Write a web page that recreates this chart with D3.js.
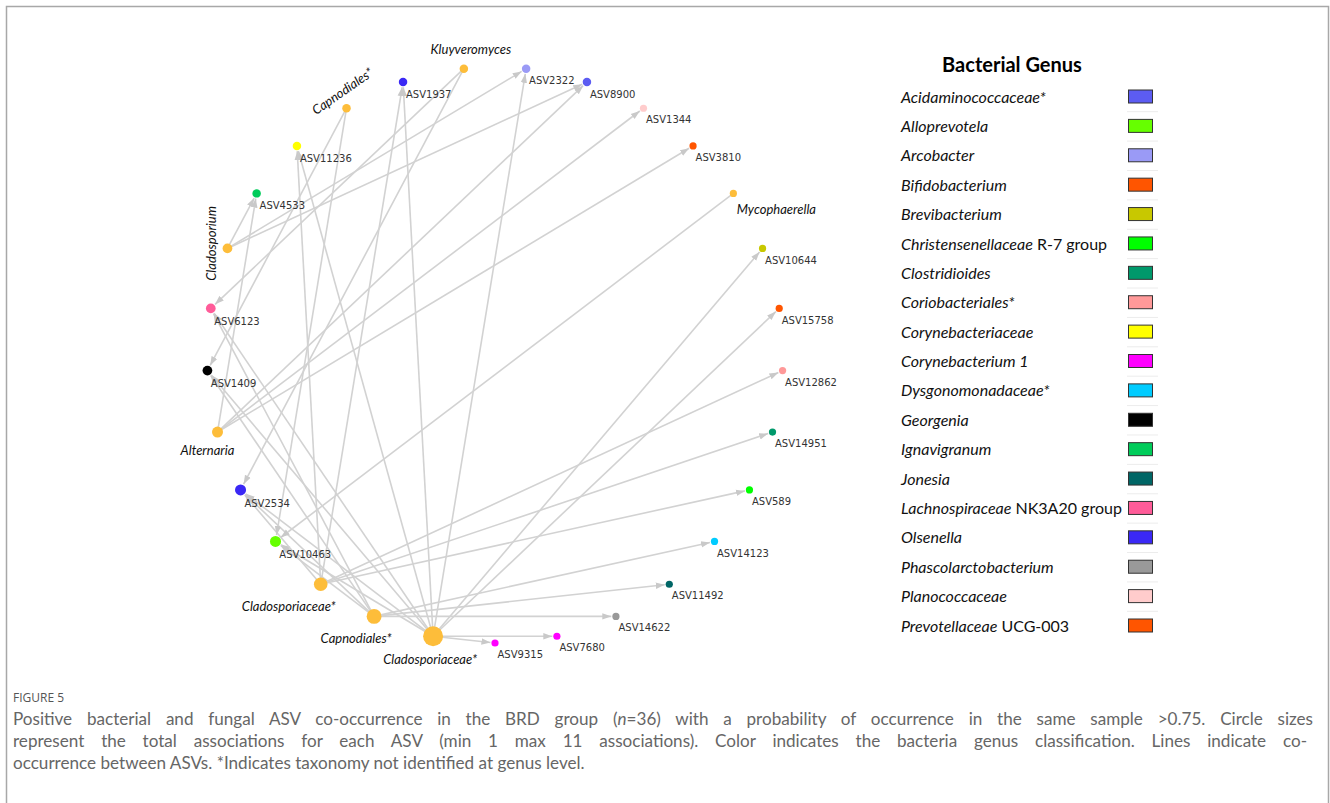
<!DOCTYPE html>
<html>
<head>
<meta charset="utf-8">
<script src="https://cdn.jsdelivr.net/npm/d3@7"></script>
<style>
  html, body { margin: 0; padding: 0; background: #fff; }
  svg { display: block; }
</style>
</head>
<body>
<svg id="fig" width="1330" height="803"></svg>
<script>
// ---- Nodes, in circular-layout order (clockwise from the top) ----
const ringOrder = [
  "ASV2322", "ASV8900", "ASV1344", "ASV3810", "Mycophaerella", "ASV10644",
  "ASV15758", "ASV12862", "ASV14951", "ASV589", "ASV14123", "ASV11492",
  "ASV14622", "ASV7680", "ASV9315", "Cladosporiaceae* (b)", "Capnodiales* (b)",
  "Cladosporiaceae* (a)", "ASV10463", "ASV2534", "Alternaria", "ASV1409",
  "ASV6123", "Cladosporium", "ASV4533", "ASV11236", "Capnodiales* (a)",
  "ASV1937", "Kluyveromyces"
];

// Fungal ASVs (labelled by taxonomy)
const fungalTaxa = [
  "Kluyveromyces", "Capnodiales* (a)", "Cladosporium", "Alternaria",
  "Cladosporiaceae* (a)", "Capnodiales* (b)", "Cladosporiaceae* (b)", "Mycophaerella"
];

// Bacterial ASVs and their genus
const bacterialASVs = [
  "ASV2322", "ASV8900", "ASV1344", "ASV3810", "ASV10644", "ASV15758", "ASV12862",
  "ASV14951", "ASV589", "ASV14123", "ASV11492", "ASV14622", "ASV7680", "ASV9315",
  "ASV10463", "ASV2534", "ASV1409", "ASV6123", "ASV4533", "ASV11236", "ASV1937"
];
const bacterialGenus = [
  "Arcobacter", "Acidaminococcaceae*", "Planococcaceae", "Prevotellaceae",
  "Brevibacterium", "Bifidobacterium", "Coriobacteriales*", "Clostridioides",
  "Christensenellaceae", "Dysgonomonadaceae*", "Jonesia", "Phascolarctobacterium",
  "Corynebacterium 1", "Corynebacterium 1", "Alloprevotela", "Olsenella",
  "Georgenia", "Lachnospiraceae", "Ignavigranum", "Corynebacteriaceae", "Olsenella"
];

// Legend: genus (italic part), plain suffix, colour
const genusNames = [
  "Acidaminococcaceae*", "Alloprevotela", "Arcobacter", "Bifidobacterium",
  "Brevibacterium", "Christensenellaceae", "Clostridioides", "Coriobacteriales*",
  "Corynebacteriaceae", "Corynebacterium 1", "Dysgonomonadaceae*", "Georgenia",
  "Ignavigranum", "Jonesia", "Lachnospiraceae", "Olsenella",
  "Phascolarctobacterium", "Planococcaceae", "Prevotellaceae"
];
const genusSuffix = [
  "", "", "", "", "", " R-7 group", "", "", "", "", "", "", "", "",
  " NK3A20 group", "", "", "", " UCG-003"
];
const genusColors = [
  "#5c5cf2", "#66ff00", "#9a9af6", "#ff5500", "#c8c800", "#00ff00",
  "#00996b", "#ff9999", "#ffff00", "#ff00ff", "#00ccff", "#000000",
  "#00cc5a", "#006666", "#ff5c99", "#3a28f5", "#999999", "#ffcccc", "#ff5500"
];

// Co-occurrence edges (source -> target)
const edgeSource = [
  "Cladosporiaceae* (b)", "Cladosporiaceae* (b)", "Cladosporiaceae* (b)", "Cladosporiaceae* (b)",
  "Cladosporiaceae* (b)", "Cladosporiaceae* (b)", "Cladosporiaceae* (b)", "Cladosporiaceae* (b)",
  "Cladosporiaceae* (b)", "Cladosporiaceae* (b)", "Cladosporiaceae* (b)",
  "Capnodiales* (b)", "Capnodiales* (b)", "Capnodiales* (b)", "Capnodiales* (b)",
  "Capnodiales* (b)", "Capnodiales* (b)", "Capnodiales* (b)",
  "Cladosporiaceae* (a)", "Cladosporiaceae* (a)", "Cladosporiaceae* (a)",
  "Cladosporiaceae* (a)", "Cladosporiaceae* (a)", "Cladosporiaceae* (a)",
  "Alternaria", "Alternaria", "Alternaria", "Alternaria",
  "Cladosporium", "Cladosporium", "Cladosporium",
  "Kluyveromyces", "Kluyveromyces",
  "Capnodiales* (a)", "Capnodiales* (a)",
  "Mycophaerella"
];
const edgeTarget = [
  "ASV9315", "ASV7680", "ASV10644", "ASV15758",
  "ASV2322", "ASV1937", "ASV11236", "ASV2534",
  "ASV1409", "ASV6123", "ASV10463",
  "ASV14622", "ASV11492", "ASV14123", "ASV2534",
  "ASV6123", "ASV1409", "ASV10463",
  "ASV12862", "ASV14951", "ASV589",
  "ASV1937", "ASV11236", "ASV2534",
  "ASV3810", "ASV1344", "ASV8900", "ASV4533",
  "ASV2322", "ASV8900", "ASV4533",
  "ASV6123", "ASV2534",
  "ASV10463", "ASV1409",
  "ASV10463"
];

const captionTitle = "FIGURE 5";
const captionLines = [
  ["Positive bacterial and fungal ASV co-occurrence in the BRD group (", "n", "=36) with a probability of occurrence in the same sample >0.75. Circle sizes"],
  ["represent the total associations for each ASV (min 1 max 11 associations). Color indicates the bacteria genus classification. Lines indicate co-"],
  ["occurrence between ASVs. *Indicates taxonomy not identified at genus level."]
];

// ---------------------------------------------------------------------------
const svg = d3.select("#fig");
const FUNGAL_COLOR = "#fdbd3a";

// figure frame
svg.append("path")
  .attr("d", "M6.5,810 V6.5 H1328.5 V810")
  .attr("fill", "none").attr("stroke", "#a8a8a8").attr("stroke-width", 1.5);

// colour lookup for genera
const genusColor = d3.scaleOrdinal().domain(genusNames).range(genusColors);
const asvGenus = new Map(bacterialASVs.map((a, i) => [a, bacterialGenus[i]]));
const isFungal = new Set(fungalTaxa);

// degree = total associations
const degree = new Map(ringOrder.map(id => [id, 0]));
edgeSource.forEach((s, i) => {
  degree.set(s, degree.get(s) + 1);
  degree.set(edgeTarget[i], degree.get(edgeTarget[i]) + 1);
});

// circular layout
const cx = 495, cy = 355, R = 288;
const angle = d3.scaleLinear().domain([0, ringOrder.length]).range([0, 2 * Math.PI]);
const radius = d3.scaleLinear().domain([1, 11]).range([3.6, 10]);

const nodes = ringOrder.map((id, i) => {
  const a = angle(i + 0.5);
  return {
    id,
    label: id.replace(/ \([ab]\)$/, ""),
    fungal: isFungal.has(id),
    x: cx + R * Math.sin(a),
    y: cy - R * Math.cos(a),
    r: radius(degree.get(id)),
    color: isFungal.has(id) ? FUNGAL_COLOR : genusColor(asvGenus.get(id))
  };
});
const byId = new Map(nodes.map(n => [n.id, n]));
const links = edgeSource.map((s, i) => ({ source: byId.get(s), target: byId.get(edgeTarget[i]) }));

// arrowhead marker
svg.append("defs").append("marker")
  .attr("id", "arrow")
  .attr("viewBox", "0 -4 9 8")
  .attr("refX", 9).attr("refY", 0)
  .attr("markerUnits", "userSpaceOnUse")
  .attr("markerWidth", 9).attr("markerHeight", 8)
  .attr("orient", "auto")
  .append("path").attr("d", "M0,-3.2L9,0L0,3.2Z").attr("fill", "#c9c9c9");

// edges, shortened to stop at the target circle
function endPoint(d) {
  const dx = d.target.x - d.source.x, dy = d.target.y - d.source.y, L = Math.hypot(dx, dy);
  return [d.target.x - dx / L * (d.target.r + 1), d.target.y - dy / L * (d.target.r + 1)];
}
svg.append("g").selectAll("line").data(links).join("line")
  .attr("x1", d => d.source.x).attr("y1", d => d.source.y)
  .attr("x2", d => endPoint(d)[0])
  .attr("y2", d => endPoint(d)[1])
  .attr("stroke", "#d2d2d2").attr("stroke-width", 1.6)
  .attr("marker-end", "url(#arrow)");

// node circles
svg.append("g").selectAll("circle").data(nodes).join("circle")
  .attr("cx", d => d.x).attr("cy", d => d.y).attr("r", d => d.r)
  .attr("fill", d => d.color);

// bacterial ASV labels
svg.append("g").selectAll("text").data(nodes.filter(d => !d.fungal)).join("text")
  .attr("x", d => d.x + d.r * 0.7)
  .attr("y", d => d.y + d.r + 8)
  .attr("dy", "0.35em")
  .attr("font-family", "DejaVu Sans, Verdana, sans-serif")
  .attr("font-size", 10)
  .attr("fill", "#333")
  .text(d => d.label);

// fungal taxonomy labels (italic), placed around each node
const fungalLabelPlacement = new Map([
  ["Kluyveromyces",        { dx: 7,   dy: -19, rot: 0 }],
  ["Capnodiales* (a)",     { dx: -4,  dy: -17, rot: -35 }],
  ["Cladosporium",         { dx: -16, dy: -5,  rot: -90 }],
  ["Alternaria",           { dx: -10, dy: 18,  rot: 0 }],
  ["Cladosporiaceae* (a)", { dx: -32, dy: 22,  rot: 0 }],
  ["Capnodiales* (b)",     { dx: -18, dy: 22,  rot: 0 }],
  ["Cladosporiaceae* (b)", { dx: -3,  dy: 23,  rot: 0 }],
  ["Mycophaerella",        { dx: 43,  dy: 16,  rot: 0 }]
]);
svg.append("g").selectAll("text").data(nodes.filter(d => d.fungal)).join("text")
  .attr("transform", d => {
    const p = fungalLabelPlacement.get(d.id);
    return `translate(${d.x + p.dx},${d.y + p.dy}) rotate(${p.rot})`;
  })
  .attr("text-anchor", "middle")
  .attr("dy", "0.35em")
  .attr("font-family", "Lato, 'Open Sans', sans-serif")
  .attr("font-style", "italic")
  .attr("font-size", 13)
  .attr("fill", "#111")
  .text(d => d.label);

// ---- Legend ----
const legend = svg.append("g");
legend.append("text")
  .attr("x", 1012).attr("y", 65).attr("dy", "0.35em")
  .attr("text-anchor", "middle")
  .attr("font-family", "Lato, 'Open Sans', sans-serif")
  .attr("font-weight", "bold").attr("font-size", 20)
  .attr("fill", "#000")
  .text("Bacterial Genus");

const rowY = d3.scalePoint().domain(genusNames).range([97, 626]);
const step = rowY.step();

legend.selectAll("line.sep").data(genusNames.slice(1)).join("line")
  .attr("class", "sep")
  .attr("x1", 1127).attr("x2", 1158)
  .attr("y1", d => rowY(d) - step / 2).attr("y2", d => rowY(d) - step / 2)
  .attr("stroke", "#ececec").attr("stroke-width", 1);

const rows = legend.selectAll("g.row").data(genusNames).join("g").attr("class", "row");
const label = rows.append("text")
  .attr("x", 901).attr("y", d => rowY(d)).attr("dy", "0.35em")
  .attr("font-family", "Lato, 'Open Sans', sans-serif")
  .attr("font-size", 16).attr("fill", "#111");
label.append("tspan").attr("font-style", "italic").text(d => d);
label.append("tspan").text((d, i) => genusSuffix[i]);

rows.append("rect")
  .attr("x", 1128.5).attr("y", d => rowY(d) - 7)
  .attr("width", 24).attr("height", 13)
  .attr("fill", d => genusColor(d))
  .attr("stroke", "#333").attr("stroke-width", 1);

// ---- Caption ----
svg.append("text")
  .attr("x", 13).attr("y", 702)
  .attr("font-family", "'Open Sans', sans-serif")
  .attr("font-size", 12).attr("fill", "#555")
  .text(captionTitle);

const cap = svg.append("g")
  .attr("font-family", "Lato, 'Open Sans', sans-serif")
  .attr("fill", "#666");
const capText = cap.selectAll("text").data(captionLines).join("text")
  .attr("x", 13).attr("y", (d, i) => 725 + i * 22)
  .attr("font-size", 16);
capText.each(function (parts) {
  const t = d3.select(this);
  parts.forEach((p, j) => {
    const s = t.append("tspan").text(p);
    if (parts.length > 1 && j === 1) s.attr("font-style", "italic");
  });
});
// size the caption from the last (unjustified) line, then justify the others
const capNodes = capText.nodes();
const lastW = capNodes[2].getComputedTextLength();
capText.attr("font-size", 16 * 572 / lastW);
const justifyTo = [1300, 1294];
capNodes.slice(0, 2).forEach((n, i) => {
  const txt = captionLines[i].join("");
  const spaces = (txt.match(/ /g) || []).length;
  const w = n.getComputedTextLength();
  d3.select(n).attr("word-spacing", (justifyTo[i] - w) / spaces);
});
</script>
</body>
</html>
